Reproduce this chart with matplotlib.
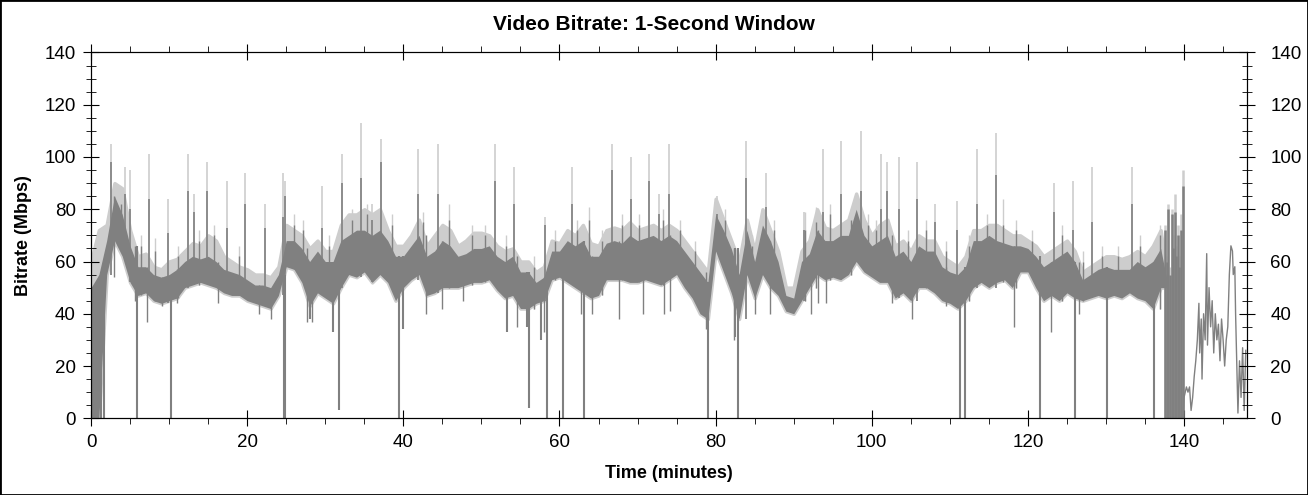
"""Video bitrate, 1-second window: recreated from a BDInfo style chart."""
import matplotlib

matplotlib.use("Agg")
import matplotlib.pyplot as plt  # noqa: E402
from matplotlib.patches import Rectangle  # noqa: E402
from matplotlib.ticker import MultipleLocator  # noqa: E402

plt.rcParams["font.family"] = ["Liberation Sans", "DejaVu Sans"]

DARK = "#808080"
LIGHT = "#cdcdcd"

# minute-by-minute envelope of the dense trace (Mbps), minutes 0..139
minutes = list(range(0, 140))
band_lo = [0, 0, 55, 68, 62, 52, 47, 48, 45, 44,
           45, 46, 50, 51, 52, 51, 50, 48, 47, 47,
           45, 44, 43, 42, 47, 58, 57, 52, 43, 48,
           46, 44, 50, 55, 54, 56, 52, 55, 52, 45,
           50, 53, 55, 47, 48, 50, 50, 50, 51, 52,
           52, 53, 49, 46, 47, 42, 42, 44, 45, 53,
           54, 52, 50, 48, 46, 47, 53, 53, 53, 52,
           52, 53, 52, 51, 53, 55, 50, 46, 40, 38,
           64, 56, 48, 38, 55, 46, 55, 50, 47, 41,
           40, 45, 50, 55, 53, 54, 53, 55, 60, 56,
           54, 52, 52, 46, 48, 45, 50, 50, 48, 45,
           44, 42, 45, 50, 52, 50, 52, 53, 50, 56,
           56, 50, 45, 47, 45, 48, 46, 45, 46, 47,
           46, 47, 46, 48, 46, 45, 42, 50, 50, 50]
band_hi = [50, 55, 68, 85, 78, 66, 58, 58, 55, 54,
           55, 57, 60, 62, 61, 62, 60, 57, 56, 55,
           53, 51, 51, 50, 55, 68, 68, 65, 60, 64,
           60, 60, 68, 70, 72, 72, 70, 72, 68, 62,
           62, 66, 70, 62, 64, 68, 66, 62, 63, 65,
           65, 66, 62, 60, 62, 56, 56, 52, 54, 64,
           64, 68, 66, 68, 62, 62, 67, 68, 67, 70,
           68, 69, 70, 68, 70, 68, 64, 60, 56, 52,
           78, 72, 65, 55, 72, 60, 74, 68, 60, 47,
           46, 60, 63, 72, 68, 68, 70, 70, 80, 70,
           66, 68, 70, 62, 64, 60, 66, 64, 64, 58,
           56, 55, 58, 68, 68, 70, 68, 67, 66, 66,
           65, 62, 58, 60, 62, 64, 60, 53, 55, 57,
           58, 57, 57, 57, 60, 58, 60, 65, 50, 50]
band_max = [60, 72, 74, 90, 88, 72, 62, 63, 58, 57,
            60, 61, 64, 67, 66, 70, 68, 62, 60, 58,
            57, 55, 55, 54, 58, 74, 72, 70, 65, 68,
            64, 64, 74, 78, 78, 80, 78, 80, 72, 66,
            66, 70, 76, 66, 70, 74, 72, 66, 68, 71,
            71, 70, 66, 64, 65, 60, 60, 56, 58, 68,
            67, 72, 70, 74, 67, 66, 72, 73, 72, 75,
            72, 73, 74, 72, 74, 72, 68, 64, 60, 56,
            84, 76, 68, 60, 76, 64, 80, 72, 64, 50,
            50, 64, 68, 80, 73, 72, 74, 76, 86, 76,
            70, 74, 76, 66, 68, 64, 70, 68, 68, 62,
            60, 58, 62, 72, 72, 74, 74, 72, 70, 70,
            68, 66, 62, 64, 66, 68, 64, 56, 58, 60,
            62, 62, 61, 62, 64, 62, 66, 72, 50, 50]

# short peaks: minute, dark peak, light peak
peak_t = [2.6, 4.3, 5.0, 7.4, 9.8, 12.4, 13.2, 14.9, 17.4, 19.7,
          22.3, 24.6, 24.9, 29.6, 32.1, 34.6, 36.0, 37.1, 41.9, 44.4,
          51.7, 54.2, 58.1, 61.6, 66.7, 69.1, 71.5, 72.8, 74.0, 80.2,
          83.9, 86.4, 91.3, 93.7, 96.1, 98.6, 101.2, 102.0, 103.5, 105.8,
          108.1, 110.9, 113.5, 115.9, 123.3, 125.8, 128.2, 133.3]
peak_dark = [98, 86, 80, 84, 71, 87, 79, 87, 73, 82,
             73, 77, 85, 73, 90, 92, 76, 98, 86, 86,
             91, 82, 74, 82, 95, 84, 91, 78, 86, 78,
             92, 81, 72, 79, 86, 87, 80, 87, 80, 84,
             75, 72, 82, 93, 79, 72, 75, 82]
peak_light = [105, 96, 95, 101, 84, 101, 86, 98, 91, 94,
              82, 94, 91, 89, 101, 113, 82, 107, 103, 105,
              105, 96, 77, 96, 105, 100, 101, 86, 105, 85,
              106, 94, 79, 103, 106, 110, 101, 98, 100, 98,
              82, 83, 103, 109, 90, 91, 96, 96]

# smaller upward flicks above the band
rise_t = [3.8, 6.4, 8.2, 11.2, 13.8, 15.8, 18.9, 26.0, 27.1, 30.5,
          33.4, 35.4, 38.5, 42.5, 45.9, 48.8, 50.4, 53.1, 56.8, 59.4,
          62.2, 63.8, 65.5, 68.0, 70.2, 73.2, 75.4, 77.3, 81.2, 84.7,
          87.5, 91.4, 92.8, 94.6, 97.4, 99.5, 100.6, 104.6, 106.9, 109.5,
          112.5, 114.7, 116.8, 118.5, 120.5, 124.4, 127.0, 129.5, 131.5, 134.4,
          136.9]
rise_dark = [82, 66, 64, 62, 68, 70, 62, 74, 72, 66,
             76, 78, 74, 75, 76, 70, 70, 66, 58, 68,
             72, 76, 68, 74, 74, 76, 72, 64, 76, 66,
             72, 72, 75, 78, 76, 74, 72, 68, 72, 64,
             66, 74, 74, 72, 68, 70, 60, 62, 62, 66,
             70]
rise_light = [87, 70, 69, 66, 72, 74, 66, 78, 76, 70,
              80, 82, 78, 79, 82, 74, 74, 70, 62, 72,
              76, 81, 72, 78, 78, 80, 76, 68, 80, 70,
              76, 79, 81, 82, 80, 78, 76, 72, 76, 68,
              70, 78, 84, 76, 72, 74, 64, 66, 66, 70,
              74]

# smaller downward flicks below the band
flick_t = [3.0, 5.6, 7.2, 9.1, 11.0, 16.3, 21.5, 23.0, 27.6, 28.3,
           42.9, 45.0, 47.6, 54.6, 58.0, 62.7, 64.2, 67.6, 70.7, 73.4,
           74.2, 78.8, 82.3, 85.1, 87.0, 92.2, 93.1, 94.2, 102.6, 105.1,
           109.5, 118.2, 123.0, 126.5]
flick_v = [54, 45, 37, 43, 44, 44, 40, 38, 37, 37,
           40, 42, 45, 35, 33, 40, 40, 38, 40, 40,
           41, 34, 30, 40, 40, 40, 44, 44, 44, 38,
           43, 35, 33, 40]

# drop-outs: minute, lowest value
dip_t = [0.2, 0.5, 0.9, 1.3, 1.6, 5.9, 10.3, 24.7, 24.8, 28.0,
         31.0, 31.7, 39.4, 39.9, 53.3, 55.9, 56.1, 57.6, 58.4, 60.5,
         63.2, 79.0, 82.5, 82.9, 111.3, 112.0, 121.6, 126.0, 130.1, 136.2]
dip_v = [0, 0, 0, 0, 0, 0, 0, 0, 0, 38,
         33, 3, 0, 34, 33, 35, 4, 30, 0, 0,
         0, 0, 31, 0, 0, 0, 0, 0, 0, 0]

# burst of full-height swings near the end of the feature
burst_t = [137.6, 137.8, 138.0, 138.2, 138.4, 138.6, 138.8, 139.0, 139.2, 139.4, 139.6, 139.8]
burst_dark = [72, 60, 80, 55, 78, 65, 79, 62, 70, 58, 72, 89]
burst_light = [74, 62, 82, 58, 80, 70, 86, 66, 74, 62, 78, 95]

# closing credits: single thin trace
tail_t = [139.9, 140.0, 140.3, 140.5, 140.7, 140.9, 141.1, 141.3, 141.5, 141.7,
          141.9, 142.0, 142.2, 142.3, 142.5, 142.7, 142.9, 143.0, 143.2, 143.4,
          143.6, 143.8, 144.0, 144.2, 144.4, 144.6, 144.8, 145.0, 145.2, 145.4,
          145.6, 145.8, 146.0, 146.2, 146.3, 146.5, 146.6, 146.9, 147.1, 147.3,
          147.5, 147.7, 147.9]
tail_v = [0, 8, 12, 10, 12, 3, 8, 16, 22, 30,
          44, 25, 38, 15, 40, 30, 63, 28, 50, 35,
          45, 25, 40, 30, 36, 22, 38, 30, 20, 30,
          35, 55, 66, 64, 55, 58, 40, 2, 22, 8,
          27, 3, 26]

fig = plt.figure(figsize=(13.08, 4.95), dpi=100)
ax = fig.add_axes([0.0696, 0.155, 0.8834, 0.739])

# light "max" layer underneath, dark trace on top
ax.fill_between(minutes, band_lo, band_max, color=LIGHT, edgecolor=LIGHT, lw=2.5, zorder=1)
ax.vlines(peak_t, [band_lo[int(t)] for t in peak_t], peak_light, color=LIGHT, lw=1.2, zorder=1)
ax.vlines(rise_t, [band_lo[int(t)] for t in rise_t], rise_light, color=LIGHT, lw=1.0, zorder=1)
ax.vlines(burst_t, 0, burst_light, color=LIGHT, lw=1.8, zorder=1)
ax.fill_between(minutes, band_lo, band_hi, color=DARK, lw=0, zorder=2)
ax.vlines(peak_t, [band_lo[int(t)] for t in peak_t], peak_dark, color=DARK, lw=1.2, zorder=2)
ax.vlines(rise_t, [band_lo[int(t)] for t in rise_t], rise_dark, color=DARK, lw=1.0, zorder=2)
ax.vlines(flick_t, flick_v, [band_hi[int(t)] for t in flick_t], color=DARK, lw=1.0, zorder=2)
ax.vlines(dip_t, dip_v, [band_hi[int(t)] for t in dip_t], color=DARK, lw=1.5, zorder=2)
ax.vlines(burst_t, 0, burst_dark, color=DARK, lw=1.8, zorder=2)
ax.plot(tail_t, tail_v, color=DARK, lw=1.0, zorder=2)

ax.set_xlim(0, 148)
ax.set_ylim(0, 140)
ax.xaxis.set_major_locator(MultipleLocator(20))
ax.xaxis.set_minor_locator(MultipleLocator(5))
ax.yaxis.set_major_locator(MultipleLocator(20))
ax.yaxis.set_minor_locator(MultipleLocator(5))
ax.tick_params(axis="both", which="both", top=True, right=False, labelsize=13.5, color="black")
ax.tick_params(axis="y", which="major", direction="inout", length=12, pad=5)
ax.tick_params(axis="y", which="minor", direction="inout", length=7)
ax.tick_params(axis="x", which="major", direction="inout", length=11, pad=6)
ax.tick_params(axis="x", which="minor", direction="out", length=4)

# right-hand scale repeats the left one
ax2 = ax.twinx()
ax2.set_ylim(0, 140)
ax2.yaxis.set_major_locator(MultipleLocator(20))
ax2.yaxis.set_minor_locator(MultipleLocator(5))
ax2.tick_params(axis="y", which="major", direction="inout", length=12, pad=11, labelsize=13.5)
ax2.tick_params(axis="y", which="minor", direction="inout", length=7)

fig.text(0.5, 1 - 24 / 495, "Video Bitrate: 1-Second Window", ha="center", va="center",
         fontsize=15, fontweight="bold")
ax.set_xlabel("Time (minutes)", fontsize=13, fontweight="bold", labelpad=10)
ax.set_ylabel("Bitrate (Mbps)", fontsize=13, fontweight="bold", labelpad=9)

fig.patches.append(Rectangle((0, 0), 1, 1, transform=fig.transFigure, fill=False,
                             edgecolor="black", lw=2))

fig.savefig("out.png", dpi=100)
